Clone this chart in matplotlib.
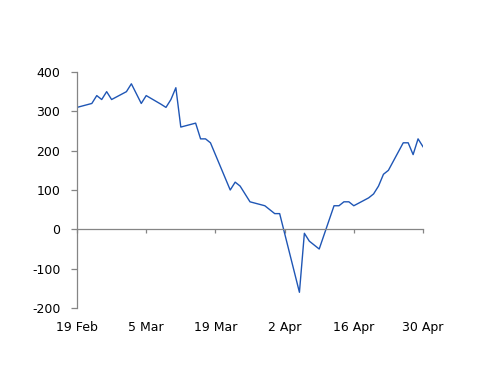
import matplotlib
matplotlib.use("Agg")
import matplotlib.pyplot as plt
import matplotlib.dates as mdates
import pandas as pd

# =========== Data =====================================

DATES = [
    "2021-02-19", "2021-02-22", "2021-02-23", "2021-02-24", "2021-02-25", "2021-02-26",
    "2021-03-01", "2021-03-02", "2021-03-03", "2021-03-04", "2021-03-05",
    "2021-03-08", "2021-03-09", "2021-03-10", "2021-03-11", "2021-03-12",
    "2021-03-15", "2021-03-16", "2021-03-17", "2021-03-18", "2021-03-19",
    "2021-03-22", "2021-03-23", "2021-03-24", "2021-03-25", "2021-03-26",
    "2021-03-29", "2021-03-30", "2021-03-31", "2021-04-01",
    "2021-04-05", "2021-04-06", "2021-04-07", "2021-04-08", "2021-04-09",
    "2021-04-12", "2021-04-13", "2021-04-14", "2021-04-15", "2021-04-16",
    "2021-04-19", "2021-04-20", "2021-04-21", "2021-04-22", "2021-04-23",
    "2021-04-26", "2021-04-27", "2021-04-28", "2021-04-29", "2021-04-30",
]
VALUES = [
    310, 320, 340, 330, 350, 330,
    350, 370, 345, 320, 340,
    318, 310, 330, 360, 260,
    270, 230, 230, 220, 190,
    100, 120, 110, 90, 70,
    60, 50, 40, 40,
    -160, -10, -30, -40, -50,
    60, 60, 70, 70, 60,
    80, 90, 110, 140, 150,
    220, 220, 190, 230, 210,
]
TICK_DATES = ["2021-02-19", "2021-03-05", "2021-03-19", "2021-04-02",
              "2021-04-16", "2021-04-30"]
Y_TICKS = [-200, -100, 0, 100, 200, 300, 400]

LINE_COLOR = "#1f56b5"
AXIS_COLOR = "#858585"

# =========== Plot ============

plt.rcParams["axes.unicode_minus"] = False

dates = pd.to_datetime(DATES)
ticks = pd.to_datetime(TICK_DATES)

fig = plt.figure(figsize=(5.0, 3.86), dpi=100)
ax = fig.add_axes([0.154, 0.202, 0.692, 0.6115])

ax.plot(dates, VALUES, color=LINE_COLOR, linewidth=1.0)

ax.set_xlim(ticks[0], ticks[-1])
ax.set_ylim(-200, 400)
ax.set_yticks(Y_TICKS)
ax.set_xticks(ticks)
ax.xaxis.set_major_formatter(mdates.DateFormatter("%-d %b"))

for side in ("top", "right"):
    ax.spines[side].set_visible(False)
ax.spines["bottom"].set_position(("data", 0))
for side in ("left", "bottom"):
    ax.spines[side].set_color(AXIS_COLOR)
    ax.spines[side].set_linewidth(0.9)

ax.tick_params(axis="y", direction="out", length=4, width=0.9,
               color=AXIS_COLOR, labelsize=9, pad=8, labelcolor="black")
ax.tick_params(axis="x", direction="out", length=3, width=0.9,
               color=AXIS_COLOR, labelsize=9, pad=63, labelcolor="black")

fig.savefig("out.png", dpi=100)
